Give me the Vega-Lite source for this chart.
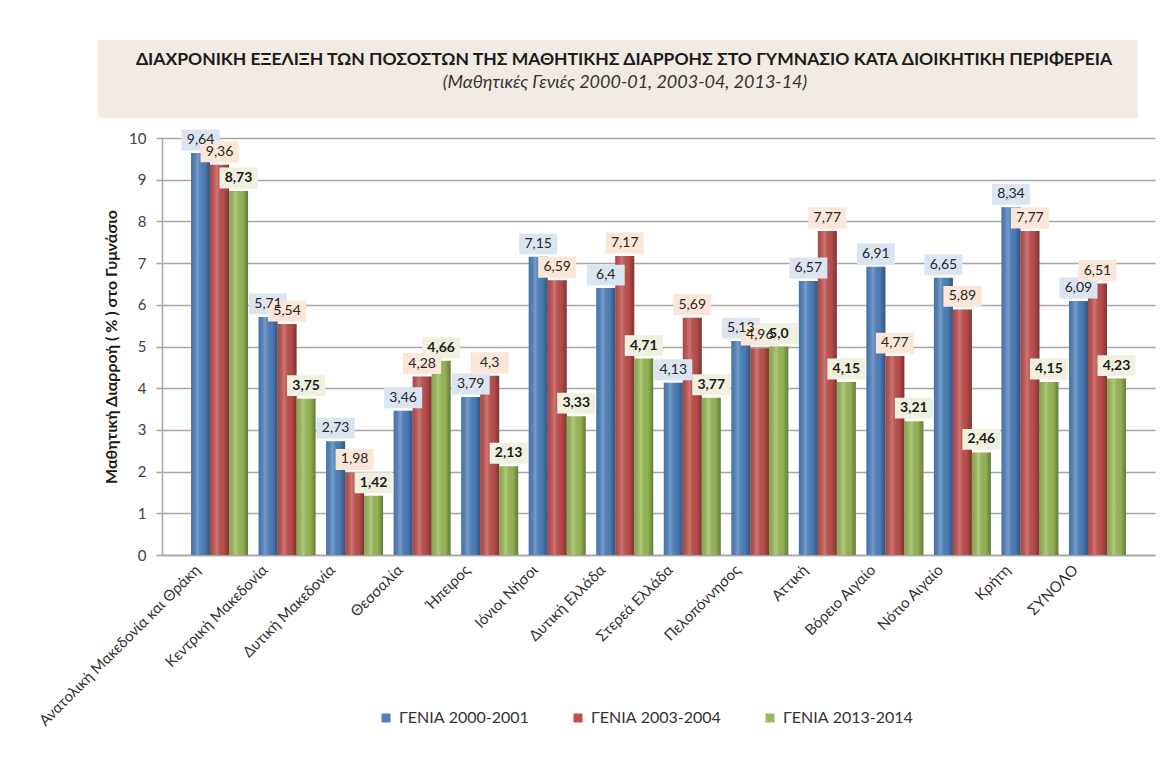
{
  "$schema": "https://vega.github.io/schema/vega-lite/v6.json",
  "padding": {"left": 33, "top": 40, "right": 5, "bottom": 5},
  "background": "white",
  "config": {"font": "Lato", "view": {"stroke": null}},
  "columns": 1,
  "spacing": 11,
  "resolve": {"scale": {"color": "independent", "fill": "independent"}, "legend": {"color": "independent"}},
  "concat": [
    {
      "width": 1040,
      "height": 78,
      "view": {"fill": "#f1ebe3", "stroke": null},
      "data": {"values": [{"t": "ΔΙΑΧΡΟΝΙΚΗ ΕΞΕΛΙΞΗ ΤΩΝ ΠΟΣΟΣΤΩΝ ΤΗΣ ΜΑΘΗΤΙΚΗΣ ΔΙΑΡΡΟΗΣ ΣΤΟ  ΓΥΜΝΑΣΙΟ ΚΑΤΑ ΔΙΟΙΚΗΤΙΚΗ ΠΕΡΙΦΕΡΕΙΑ", "s": "(Μαθητικές  Γενιές 2000-01, 2003-04, 2013-14)"}]},
      "layer": [
        {"mark": {"type": "text", "fontSize": 17.5, "fontWeight": "bold", "dy": -19, "dx": 6, "color": "#1a1a1a", "baseline": "middle"}, "encoding": {"text": {"field": "t"}}},
        {"mark": {"type": "text", "fontSize": 18, "fontStyle": "italic", "dy": 4, "dx": 7, "color": "#333333", "baseline": "middle"}, "encoding": {"text": {"field": "s"}}}
      ]
    },
    {
      "spacing": 0,
      "bounds": "flush",
      "resolve": {"scale": {"color": "independent", "fill": "independent"}, "legend": {"color": "independent"}},
      "hconcat": [
        {"width": 64, "height": 417, "data": {"values": []}, "mark": "point"},
        {
          "width": 993,
          "height": 417,
          "data": {"values": [
            {"region": "Ανατολική Μακεδονία  και Θράκη", "series": "ΓΕΝΙΑ 2000-2001", "value": 9.64, "label": "9,64"},
            {"region": "Ανατολική Μακεδονία  και Θράκη", "series": "ΓΕΝΙΑ 2003-2004", "value": 9.36, "label": "9,36"},
            {"region": "Ανατολική Μακεδονία  και Θράκη", "series": "ΓΕΝΙΑ 2013-2014", "value": 8.73, "label": "8,73"},
            {"region": "Κεντρική Μακεδονία", "series": "ΓΕΝΙΑ 2000-2001", "value": 5.71, "label": "5,71"},
            {"region": "Κεντρική Μακεδονία", "series": "ΓΕΝΙΑ 2003-2004", "value": 5.54, "label": "5,54"},
            {"region": "Κεντρική Μακεδονία", "series": "ΓΕΝΙΑ 2013-2014", "value": 3.75, "label": "3,75"},
            {"region": "Δυτική Μακεδονία", "series": "ΓΕΝΙΑ 2000-2001", "value": 2.73, "label": "2,73"},
            {"region": "Δυτική Μακεδονία", "series": "ΓΕΝΙΑ 2003-2004", "value": 1.98, "label": "1,98"},
            {"region": "Δυτική Μακεδονία", "series": "ΓΕΝΙΑ 2013-2014", "value": 1.42, "label": "1,42"},
            {"region": "Θεσσαλία", "series": "ΓΕΝΙΑ 2000-2001", "value": 3.46, "label": "3,46"},
            {"region": "Θεσσαλία", "series": "ΓΕΝΙΑ 2003-2004", "value": 4.28, "label": "4,28"},
            {"region": "Θεσσαλία", "series": "ΓΕΝΙΑ 2013-2014", "value": 4.66, "label": "4,66"},
            {"region": "Ήπειρος", "series": "ΓΕΝΙΑ 2000-2001", "value": 3.79, "label": "3,79"},
            {"region": "Ήπειρος", "series": "ΓΕΝΙΑ 2003-2004", "value": 4.3, "label": "4,3"},
            {"region": "Ήπειρος", "series": "ΓΕΝΙΑ 2013-2014", "value": 2.13, "label": "2,13"},
            {"region": "Ιόνιοι Νήσοι", "series": "ΓΕΝΙΑ 2000-2001", "value": 7.15, "label": "7,15"},
            {"region": "Ιόνιοι Νήσοι", "series": "ΓΕΝΙΑ 2003-2004", "value": 6.59, "label": "6,59"},
            {"region": "Ιόνιοι Νήσοι", "series": "ΓΕΝΙΑ 2013-2014", "value": 3.33, "label": "3,33"},
            {"region": "Δυτική Ελλάδα", "series": "ΓΕΝΙΑ 2000-2001", "value": 6.4, "label": "6,4"},
            {"region": "Δυτική Ελλάδα", "series": "ΓΕΝΙΑ 2003-2004", "value": 7.17, "label": "7,17"},
            {"region": "Δυτική Ελλάδα", "series": "ΓΕΝΙΑ 2013-2014", "value": 4.71, "label": "4,71"},
            {"region": "Στερεά Ελλάδα", "series": "ΓΕΝΙΑ 2000-2001", "value": 4.13, "label": "4,13"},
            {"region": "Στερεά Ελλάδα", "series": "ΓΕΝΙΑ 2003-2004", "value": 5.69, "label": "5,69"},
            {"region": "Στερεά Ελλάδα", "series": "ΓΕΝΙΑ 2013-2014", "value": 3.77, "label": "3,77"},
            {"region": "Πελοπόννησος", "series": "ΓΕΝΙΑ 2000-2001", "value": 5.13, "label": "5,13"},
            {"region": "Πελοπόννησος", "series": "ΓΕΝΙΑ 2003-2004", "value": 4.96, "label": "4,96"},
            {"region": "Πελοπόννησος", "series": "ΓΕΝΙΑ 2013-2014", "value": 5.0, "label": "5,0"},
            {"region": "Αττική", "series": "ΓΕΝΙΑ 2000-2001", "value": 6.57, "label": "6,57"},
            {"region": "Αττική", "series": "ΓΕΝΙΑ 2003-2004", "value": 7.77, "label": "7,77"},
            {"region": "Αττική", "series": "ΓΕΝΙΑ 2013-2014", "value": 4.15, "label": "4,15"},
            {"region": "Βόρειο Αιγαίο", "series": "ΓΕΝΙΑ 2000-2001", "value": 6.91, "label": "6,91"},
            {"region": "Βόρειο Αιγαίο", "series": "ΓΕΝΙΑ 2003-2004", "value": 4.77, "label": "4,77"},
            {"region": "Βόρειο Αιγαίο", "series": "ΓΕΝΙΑ 2013-2014", "value": 3.21, "label": "3,21"},
            {"region": "Νότιο Αιγαίο", "series": "ΓΕΝΙΑ 2000-2001", "value": 6.65, "label": "6,65"},
            {"region": "Νότιο Αιγαίο", "series": "ΓΕΝΙΑ 2003-2004", "value": 5.89, "label": "5,89"},
            {"region": "Νότιο Αιγαίο", "series": "ΓΕΝΙΑ 2013-2014", "value": 2.46, "label": "2,46"},
            {"region": "Κρήτη", "series": "ΓΕΝΙΑ 2000-2001", "value": 8.34, "label": "8,34"},
            {"region": "Κρήτη", "series": "ΓΕΝΙΑ 2003-2004", "value": 7.77, "label": "7,77"},
            {"region": "Κρήτη", "series": "ΓΕΝΙΑ 2013-2014", "value": 4.15, "label": "4,15"},
            {"region": "ΣΥΝΟΛΟ", "series": "ΓΕΝΙΑ 2000-2001", "value": 6.09, "label": "6,09"},
            {"region": "ΣΥΝΟΛΟ", "series": "ΓΕΝΙΑ 2003-2004", "value": 6.51, "label": "6,51"},
            {"region": "ΣΥΝΟΛΟ", "series": "ΓΕΝΙΑ 2013-2014", "value": 4.23, "label": "4,23"}
          ]},
          "encoding": {
            "x": {
              "field": "region", "type": "nominal", "sort": null,
              "scale": {"paddingInner": 0.156, "paddingOuter": 0.43},
              "axis": {"title": null, "labelAngle": -45, "labelAlign": "right", "labelBaseline": "middle", "labelOffset": -22, "labelPadding": 12, "ticks": false, "labelFontSize": 15, "labelColor": "#333333", "domainColor": "#a6a6a6", "domainWidth": 1.5, "labelLimit": 400}
            },
            "xOffset": {"field": "series", "type": "nominal", "sort": ["ΓΕΝΙΑ 2000-2001", "ΓΕΝΙΑ 2003-2004", "ΓΕΝΙΑ 2013-2014"], "scale": {"paddingInner": 0, "paddingOuter": 0}},
            "y": {
              "field": "value", "type": "quantitative",
              "scale": {"domain": [0, 10], "nice": false},
              "axis": {"title": "Μαθητική Διαρροή ( % ) στο Γυμνάσιο", "values": [0, 1, 2, 3, 4, 5, 6, 7, 8, 9, 10], "grid": true, "gridColor": "#a6a6a6", "gridWidth": 1.5, "domainColor": "#a6a6a6", "domainWidth": 1.5, "tickColor": "#a6a6a6", "tickSize": 6, "tickWidth": 1.5, "labelFontSize": 15, "labelColor": "#404040", "labelPadding": 10, "titleFontSize": 16, "titleFontWeight": "bold", "titleColor": "#1a1a1a", "titlePadding": 9}
            }
          },
          "layer": [
            {
              "mark": {"type": "bar"},
              "encoding": {
                "color": {
                  "field": "series", "type": "nominal",
                  "scale": {"domain": ["ΓΕΝΙΑ 2000-2001", "ΓΕΝΙΑ 2003-2004", "ΓΕΝΙΑ 2013-2014"], "range": ["#4f81bd", "#c0504d", "#9bbb59"]},
                  "legend": {"orient": "none", "legendX": 216, "legendY": 572, "direction": "horizontal", "title": null, "symbolType": "square", "symbolSize": 81, "symbolStrokeWidth": 0, "labelFontSize": 16, "labelColor": "#333333", "columnPadding": 41, "labelOffset": 5}
                }
              }
            },
            {
              "mark": {"type": "bar", "color": {"gradient": "linear", "x1": 0, "x2": 1, "y1": 0, "y2": 0, "stops": [{"offset": 0, "color": "rgba(0,0,0,0.10)"}, {"offset": 0.35, "color": "rgba(255,255,255,0.22)"}, {"offset": 0.7, "color": "rgba(0,0,0,0.04)"}, {"offset": 1, "color": "rgba(0,0,0,0.35)"}]}},
              "encoding": {}
            },
            {
              "mark": {"type": "point", "shape": "M-1,-0.55L1,-0.55L1,0.55L-1,0.55Z", "size": 1444, "filled": true, "opacity": 1, "strokeWidth": 0, "yOffset": -13},
              "encoding": {
                "fill": {"field": "series", "type": "nominal", "scale": {"domain": ["ΓΕΝΙΑ 2000-2001", "ΓΕΝΙΑ 2003-2004", "ΓΕΝΙΑ 2013-2014"], "range": ["#dbe5f1", "#fbe6d8", "#eff0de"]}, "legend": null}
              }
            },
            {
              "transform": [{"filter": "datum.series !== 'ΓΕΝΙΑ 2013-2014'"}],
              "mark": {"type": "text", "fontSize": 14, "color": "#262626", "baseline": "middle", "yOffset": -13},
              "encoding": {"text": {"field": "label"}}
            },
            {
              "transform": [{"filter": "datum.series === 'ΓΕΝΙΑ 2013-2014'"}],
              "mark": {"type": "text", "fontSize": 14, "fontWeight": "bold", "color": "#1a1a1a", "baseline": "middle", "yOffset": -13},
              "encoding": {"text": {"field": "label"}}
            }
          ]
        }
      ]
    }
  ]
}
